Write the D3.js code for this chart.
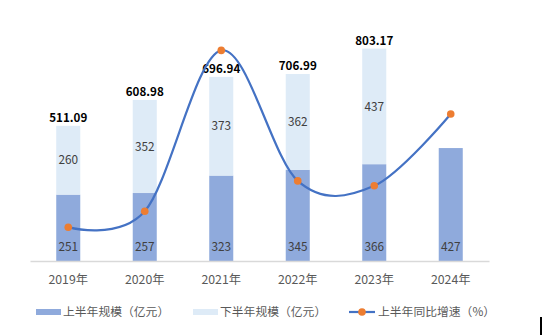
<!DOCTYPE html>
<html><head><meta charset="utf-8">
<script src="https://cdn.jsdelivr.net/npm/d3@7"></script>
<style>body{margin:0;background:#fff}svg{display:block}</style>
</head><body>
<svg id="c" width="542" height="335"></svg>
<script>
const years = ["2019年","2020年","2021年","2022年","2023年","2024年"];
const firstHalf = [251, 257, 323, 345, 366, 427];
const secondHalf = [260, 352, 373, 362, 437, null];
const totals = ["511.09","608.98","696.94","706.99","803.17",null];
const growth = [0.1, 2.4, 25.7, 6.8, 6.1, 16.5];
const legendLabels = ["上半年规模（亿元）","下半年规模（亿元）","上半年同比增速（%）"];

const C1 = "#8FAADC", C2 = "#DEEBF7", CL = "#4472C4", CM = "#ED7D31";
const FONT = "'Noto Sans CJK SC','Noto Sans',sans-serif";
const svg = d3.select("#c");

const x = d3.scaleBand().domain(years).range([30, 489]).paddingInner(0.686).paddingOuter(0.343);
const y = d3.scaleLinear().domain([0, 900]).range([261, 261 - 900 * 0.2645]);
const y2 = d3.scaleLinear().domain([-5, 30]).range([262.4, 20.7]);

const data = years.map((yr, i) => ({yr, a: firstHalf[i], b: secondHalf[i], t: totals[i], g: growth[i]}));

// lower bars
svg.append("g").selectAll("rect").data(data).join("rect")
  .attr("x", d => x(d.yr)).attr("width", x.bandwidth())
  .attr("y", d => y(d.a)).attr("height", d => y(0) - y(d.a)).attr("fill", C1);
// upper bars
svg.append("g").selectAll("rect").data(data.filter(d => d.b != null)).join("rect")
  .attr("x", d => x(d.yr)).attr("width", x.bandwidth())
  .attr("y", d => y(d.a + d.b)).attr("height", d => y(d.a) - y(d.a + d.b)).attr("fill", C2);

// axis
const xAxis = d3.axisBottom(x).tickSize(0).tickPadding(14);
const ax = svg.append("g").attr("transform", `translate(0,${y(0)})`).call(xAxis);
ax.select(".domain").attr("stroke", "#D9D9D9").attr("stroke-width", 1.3);
ax.selectAll("text").attr("font-family", FONT).attr("font-size", 12.3).attr("fill", "#595959");

// inner labels
const cx = d => x(d.yr) + x.bandwidth() / 2;
svg.append("g").selectAll("text").data(data).join("text")
  .attr("x", cx).attr("y", 247).attr("dy", "0.35em").attr("text-anchor", "middle")
  .attr("font-family", FONT).attr("font-size", 11.8).attr("fill", "#404040").text(d => d.a);
svg.append("g").selectAll("text").data(data.filter(d => d.b != null)).join("text")
  .attr("x", cx).attr("y", d => (y(d.a) + y(d.a + d.b)) / 2).attr("dy", "0.35em").attr("text-anchor", "middle")
  .attr("font-family", FONT).attr("font-size", 11.8).attr("fill", "#404040").text(d => d.b);
// totals
svg.append("g").selectAll("text").data(data.filter(d => d.t != null)).join("text")
  .attr("x", cx).attr("y", d => y(d.a + d.b) - 4).attr("text-anchor", "middle")
  .attr("font-family", FONT).attr("font-size", 11.6).attr("font-weight", "bold").attr("fill", "#000").text(d => d.t);

// line
const line = d3.line().x(cx).y(d => y2(d.g)).curve(d3.curveCardinal.tension(0));
svg.append("path").datum(data).attr("d", line).attr("fill", "none").attr("stroke", CL).attr("stroke-width", 2.2);
svg.append("g").selectAll("circle").data(data).join("circle")
  .attr("cx", cx).attr("cy", d => y2(d.g)).attr("r", 3.8).attr("fill", CM);

// legend
const lg = svg.append("g").attr("font-family", FONT).attr("font-size", 11.8).attr("fill", "#595959");
lg.append("rect").attr("x", 36).attr("y", 309).attr("width", 25).attr("height", 6).attr("fill", C1);
lg.append("text").attr("x", 63).attr("y", 312).attr("dy", "0.35em").text(legendLabels[0]);
lg.append("rect").attr("x", 193).attr("y", 309).attr("width", 25).attr("height", 6).attr("fill", C2);
lg.append("text").attr("x", 220).attr("y", 312).attr("dy", "0.35em").text(legendLabels[1]);
lg.append("line").attr("x1", 349).attr("x2", 375).attr("y1", 312).attr("y2", 312).attr("stroke", CL).attr("stroke-width", 2.2);
lg.append("circle").attr("cx", 362).attr("cy", 312).attr("r", 3.8).attr("fill", CM);
lg.append("text").attr("x", 378).attr("y", 312).attr("dy", "0.35em").text(legendLabels[2]);

// small edge mark
svg.append("rect").attr("x", 540).attr("y", 317).attr("width", 2).attr("height", 18).attr("fill", "#000");
</script>
</body></html>
